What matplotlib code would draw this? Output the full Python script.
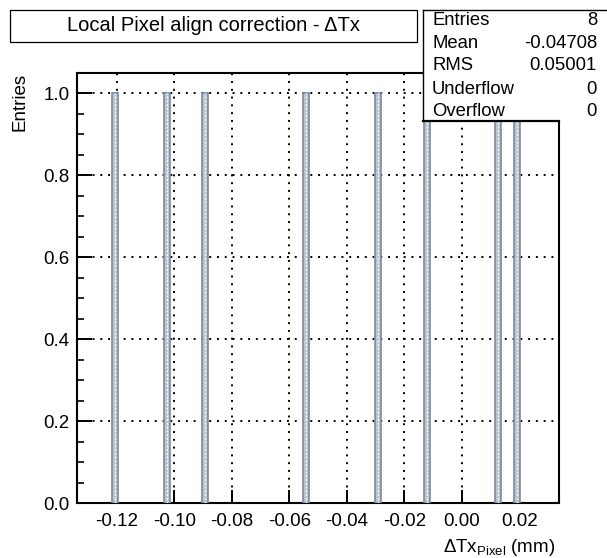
import matplotlib
matplotlib.use("Agg")
import matplotlib.pyplot as plt
from matplotlib.patches import Rectangle
from matplotlib.lines import Line2D
from matplotlib.ticker import MultipleLocator, FixedLocator, FixedFormatter

plt.rcParams['font.family'] = ['Liberation Sans', 'DejaVu Sans']
plt.rcParams['mathtext.fontset'] = 'custom'
plt.rcParams['mathtext.rm'] = 'Liberation Sans'
plt.rcParams['mathtext.it'] = 'Liberation Sans'
plt.rcParams['axes.unicode_minus'] = False

# ---- data ----
bar_positions = [-0.12042, -0.10261, -0.08929, -0.05416, -0.02911, -0.01224, 0.01273, 0.01934]
bar_heights = [1, 1, 1, 1, 1, 1, 1, 1]
bin_width = 0.0021
xtick_values = [-0.12, -0.10, -0.08, -0.06, -0.04, -0.02, 0.00, 0.02]
xtick_labels = ["-0.12", "-0.10", "-0.08", "-0.06", "-0.04", "-0.02", "0.00", "0.02"]
ytick_values = [0.0, 0.2, 0.4, 0.6, 0.8, 1.0]
ytick_labels = ["0.0", "0.2", "0.4", "0.6", "0.8", "1.0"]
title_text = "Local Pixel align correction - \u0394Tx"
stats_names = ["Entries", "Mean", "RMS", "Underflow", "Overflow"]
stats_values = ["8", "-0.04708", "0.05001", "0", "0"]

W, H = 607, 558
fig = plt.figure(figsize=(W / 100, H / 100), dpi=100)

def fx(x):
    return x / W

def fy(y):
    return 1 - y / H

L, R, T, B = 76.7, 559.0, 73.0, 503.3
ax = fig.add_axes([fx(L), fy(B), (R - L) / W, (B - T) / H])
ax.set_xlim(-0.1339, 0.0338)
ax.set_ylim(0, 1.05)

ax.bar(bar_positions, bar_heights, width=bin_width, color='#b9c5d1',
       edgecolor='#7f8c98', linewidth=1.2, zorder=3)
ax.vlines(bar_positions, 0, bar_heights, colors='white', linewidth=0.9,
          linestyles=(0, (1.5, 1.5)), zorder=4)

ax.xaxis.set_major_locator(FixedLocator(xtick_values))
ax.xaxis.set_major_formatter(FixedFormatter(xtick_labels))
ax.yaxis.set_major_locator(FixedLocator(ytick_values))
ax.yaxis.set_major_formatter(FixedFormatter(ytick_labels))
ax.yaxis.set_minor_locator(MultipleLocator(0.05))

ax.grid(which='major', color='black', linestyle=(0, (1, 3)), linewidth=1.4, zorder=2)
ax.set_axisbelow(False)

for s in ax.spines.values():
    s.set_linewidth(1.5)
    s.set_color('black')

ax.tick_params(axis='both', which='both', direction='in', color='black',
               labelsize=13.5, top=False, right=False)
ax.tick_params(axis='y', which='major', length=11, width=1.4, pad=5)
ax.tick_params(axis='y', which='minor', length=5, width=1.2)
ax.tick_params(axis='x', which='major', length=9.5, width=1.4, pad=7)

# axis titles
fig.text(fx(555), fy(547), "\u0394Tx$_{\\mathrm{Pixel}}$ (mm)", ha='right', va='center',
         fontsize=13.5)
fig.text(fx(20), fy(73), "Entries", rotation=90, ha='center', va='top', fontsize=13.5)

# title box with shadow
tb_l, tb_t, tb_r, tb_b = 10, 10, 416.7, 41.5
fig.add_artist(Rectangle((fx(tb_l + 1.5), fy(tb_b + 1.5)), (tb_r - tb_l) / W, (tb_b - tb_t) / H,
                         transform=fig.transFigure, facecolor='black', edgecolor='none', zorder=5))
fig.add_artist(Rectangle((fx(tb_l), fy(tb_b)), (tb_r - tb_l) / W, (tb_b - tb_t) / H,
                         transform=fig.transFigure, facecolor='white', edgecolor='black',
                         linewidth=0.9, zorder=6))
fig.text(fx((tb_l + tb_r) / 2), fy((tb_t + tb_b) / 2), title_text, ha='center', va='center',
         fontsize=14.5, zorder=7)

# stats box
sb_l, sb_t, sb_r, sb_b = 423, 10, 607, 121
fig.add_artist(Rectangle((fx(sb_l), fy(sb_b)), (sb_r - sb_l) / W, (sb_b - sb_t) / H,
                         transform=fig.transFigure, facecolor='white', edgecolor='none', zorder=5))
for xs, ys, lw in [((sb_l, sb_r), (sb_t, sb_t), 1.0),
                   ((sb_l, sb_l), (sb_t, sb_b), 1.0),
                   ((sb_l, R), (sb_b, sb_b), 1.6)]:
    fig.add_artist(Line2D([fx(v) for v in xs], [fy(v) for v in ys], transform=fig.transFigure,
                          color='black', linewidth=lw, zorder=6))
row_y = [20.5, 43.2, 66.0, 89.0, 111.5]
for name, val, yy in zip(stats_names, stats_values, row_y):
    fig.text(fx(432), fy(yy), name, ha='left', va='center', fontsize=13.3, zorder=7)
    fig.text(fx(597), fy(yy), val, ha='right', va='center', fontsize=13.3, zorder=7)

fig.savefig("out.png", dpi=100)
